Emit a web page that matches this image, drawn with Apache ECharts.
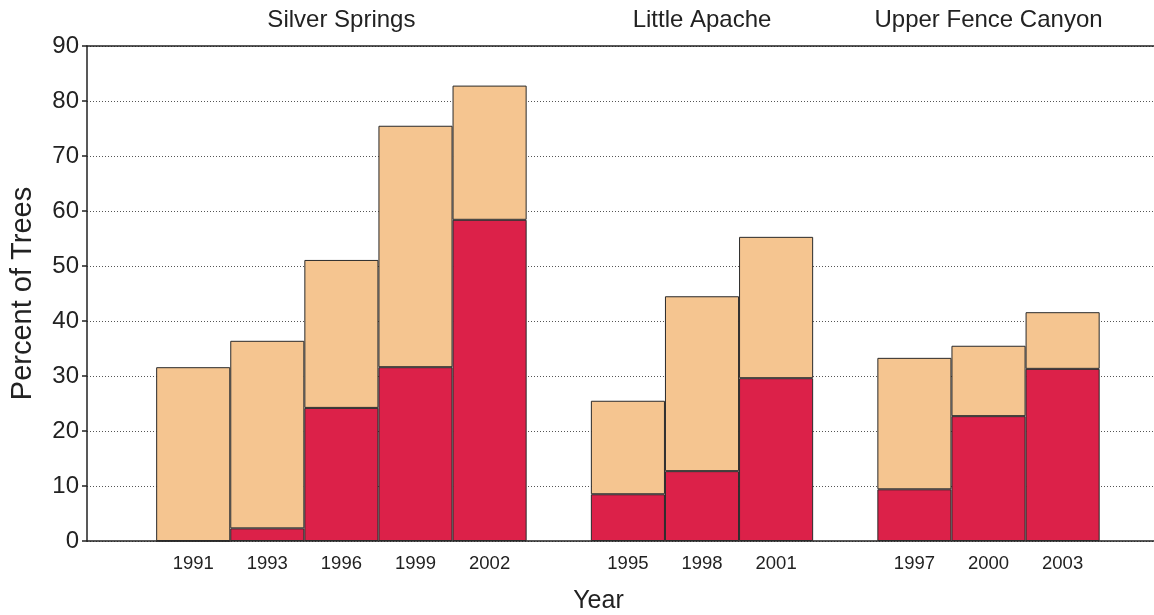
<!DOCTYPE html>
<html>
<head>
<meta charset="utf-8">
<title>Percent of Trees</title>
<script src="https://cdn.jsdelivr.net/npm/echarts@6/dist/echarts.min.js"></script>
<style>
  html, body { margin: 0; padding: 0; background: #fff; }
  #chart { width: 1154px; height: 615px; }
</style>
</head>
<body>
<div id="chart"></div>
<script>
// data
const sites = ['Silver Springs', 'Little Apache', 'Upper Fence Canyon'];
const years = [
  ['1991', '1993', '1996', '1999', '2002'],
  ['1995', '1998', '2001'],
  ['1997', '2000', '2003']
];
// lower (red) part of each bar
const redValues = [
  [0, 2.3, 24.2, 31.6, 58.4],
  [8.5, 12.7, 29.6],
  [9.4, 22.7, 31.3]
];
// full bar height
const totalValues = [
  [31.6, 36.4, 51.1, 75.5, 82.8],
  [25.5, 44.5, 55.3],
  [33.3, 35.5, 41.6]
];
const yTicks = [0, 10, 20, 30, 40, 50, 60, 70, 80, 90];

// the x axis is cut in thin slots so the gaps between the groups
// can be a bit narrower than one bar
const BAR_SLOTS = 15;
const gapSlots = [14, 13, 13, 11];

const cats = [];
const bottomLabels = [];
const topLabels = [];
const redData = [];
const tanData = [];

function pushSlot(label, top, red, tan) {
  cats.push('s' + cats.length);
  bottomLabels.push(label);
  topLabels.push(top);
  redData.push(red);
  tanData.push(tan);
}

sites.forEach((site, g) => {
  for (let k = 0; k < gapSlots[g]; k++) pushSlot('', '', '-', '-');
  const middle = Math.floor(years[g].length / 2);
  years[g].forEach((yr, i) => {
    for (let k = 0; k < BAR_SLOTS; k++) {
      if (k === Math.floor(BAR_SLOTS / 2)) {
        const red = redValues[g][i];
        pushSlot(yr, i === middle ? site : '', red, +(totalValues[g][i] - red).toFixed(1));
      } else {
        pushSlot('', '', '-', '-');
      }
    }
  });
});
for (let k = 0; k < gapSlots[3]; k++) pushSlot('', '', '-', '-');

const chart = echarts.init(document.getElementById('chart'));
const font = 'Liberation Sans, Arial, sans-serif';

const option = {
  animation: false,
  textStyle: { fontFamily: font },
  grid: { left: 87, right: 0, top: 46, bottom: 74, containLabel: false, outerBoundsMode: 'none' },
  xAxis: [{
    type: 'category',
    data: cats,
    position: 'bottom',
    name: 'Year',
    nameLocation: 'middle',
    nameGap: 48,
    nameTextStyle: { fontSize: 25, color: '#222', fontFamily: font, padding: [0, 44, 0, 0] },
    axisLine: { lineStyle: { color: '#222', width: 1.5 } },
    axisTick: { show: false },
    axisLabel: {
      interval: 0,
      margin: 13,
      fontSize: 18.5,
      color: '#222',
      formatter: (v, idx) => bottomLabels[idx]
    },
    splitLine: { show: false }
  }, {
    type: 'category',
    data: cats,
    position: 'top',
    axisLine: { lineStyle: { color: '#222', width: 1.5 } },
    axisTick: { show: false },
    axisLabel: {
      interval: 0,
      margin: 14,
      fontSize: 24,
      color: '#222',
      formatter: (v, idx) => topLabels[idx]
    }
  }],
  yAxis: {
    type: 'value',
    min: yTicks[0],
    max: yTicks[yTicks.length - 1],
    interval: 10,
    name: 'Percent of Trees',
    nameLocation: 'middle',
    nameGap: 50,
    nameTextStyle: { fontSize: 29, color: '#222', fontFamily: font },
    axisLine: { show: true, lineStyle: { color: '#222', width: 1.5 } },
    axisTick: { show: true, length: 5, lineStyle: { color: '#222', width: 1.5 } },
    axisLabel: { fontSize: 24, color: '#222', margin: 8 },
    splitLine: { show: true, lineStyle: { color: '#555', width: 1, type: [1, 2] } }
  },
  series: [{
    name: 'red',
    type: 'bar',
    stack: 'trees',
    data: redData,
    barWidth: (BAR_SLOTS * 100) + '%',
    itemStyle: { color: '#DC2149', borderColor: '#2a2a2a', borderWidth: 1 }
  }, {
    name: 'tan',
    type: 'bar',
    stack: 'trees',
    data: tanData,
    barWidth: (BAR_SLOTS * 100) + '%',
    itemStyle: { color: '#F5C590', borderColor: '#2a2a2a', borderWidth: 1 }
  }]
};

chart.setOption(option);
</script>
</body>
</html>
